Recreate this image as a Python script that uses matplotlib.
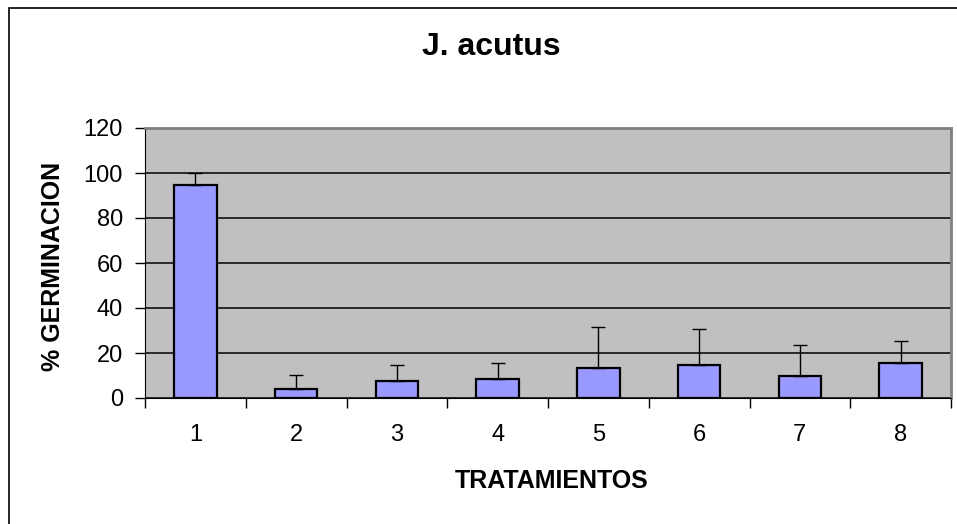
import matplotlib
matplotlib.use("Agg")
import matplotlib.pyplot as plt
from matplotlib.patches import Rectangle

tratamientos = ["1", "2", "3", "4", "5", "6", "7", "8"]
germinacion = [94.5, 3.8, 7.5, 8.3, 13.5, 14.5, 10.0, 15.5]
error_sup = [5.5, 6.4, 7.2, 7.3, 18.0, 16.3, 13.6, 9.8]

plt.rcParams["font.family"] = ["Liberation Sans", "DejaVu Sans"]

fig = plt.figure(figsize=(9.57, 5.24), dpi=100)
ax = fig.add_axes([145 / 957, 1 - 398 / 524, (951 - 145) / 957, (398 - 128) / 524])

# marco exterior del grafico
fig.patches.append(Rectangle((9 / 957, -0.1), 1.2, 1 - 8 / 524 + 0.1,
                             transform=fig.transFigure, fill=False,
                             edgecolor="black", linewidth=1.2))

x = list(range(len(tratamientos)))
ax.set_facecolor("#c0c0c0")
ax.bar(x, germinacion, width=0.42, color="#9999ff", edgecolor="black",
       linewidth=1.6, zorder=3)
ax.errorbar(x, germinacion, yerr=[[0] * len(x), error_sup], fmt="none",
            ecolor="black", elinewidth=1, capsize=5, capthick=1, zorder=4)

ax.set_xlim(-0.5, len(x) - 0.5)
ax.set_ylim(0, 120)
ax.set_yticks(range(0, 121, 20))
ax.yaxis.grid(True, color="black", linewidth=1.1, zorder=1)
ax.set_axisbelow(True)

# ticks del eje x entre categorias, etiquetas centradas
ax.set_xticks([i - 0.5 for i in range(len(x) + 1)])
ax.set_xticklabels([])
ax.set_xticks(x, minor=True)
ax.set_xticklabels(tratamientos, minor=True)
ax.tick_params(axis="x", which="minor", length=0, labelsize=17, pad=19)
ax.tick_params(axis="x", which="major", length=7, width=1, direction="out")
ax.tick_params(axis="y", length=7, width=1, labelsize=17, pad=9)

for lado in ["top", "right"]:
    ax.spines[lado].set_color("#808080")
    ax.spines[lado].set_linewidth(2)
ax.spines["left"].set_color("black")
ax.spines["bottom"].set_color("black")

fig.text(491 / 957, 1 - 47 / 524, "J. acutus", fontsize=23, fontweight="bold",
         ha="center", va="center")
fig.text(552 / 957, 1 - 481 / 524, "TRATAMIENTOS", fontsize=18,
         fontweight="bold", ha="center", va="center")
fig.text(53 / 957, 1 - 266 / 524, "% GERMINACION", fontsize=18,
         fontweight="bold", ha="center", va="center", rotation=90)

fig.savefig("out.png", dpi=100)
